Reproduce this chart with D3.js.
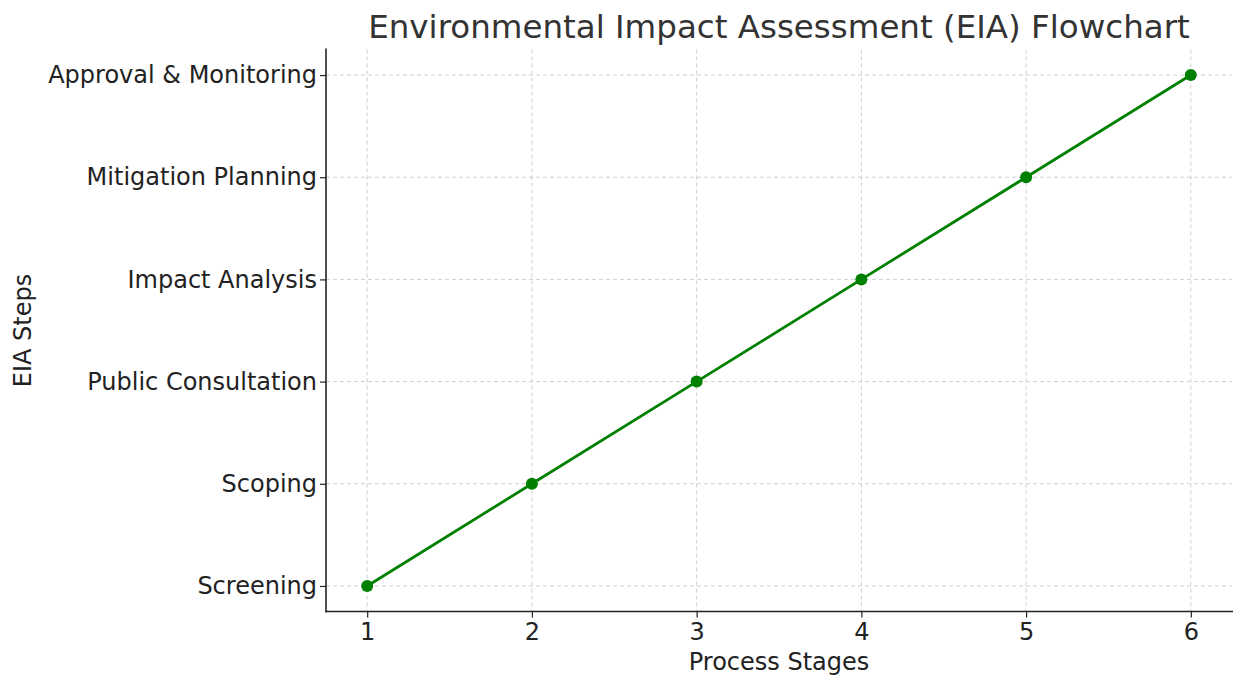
<!DOCTYPE html>
<html>
<head>
<meta charset="utf-8">
<script src="https://cdn.jsdelivr.net/npm/d3@7"></script>
<style>
  body { margin: 0; background: #fff; }
  svg { display: block; font-family: "DejaVu Sans", sans-serif; }
</style>
</head>
<body>
<div id="chart"></div>
<script>
const stages = [1, 2, 3, 4, 5, 6];
const steps = ["Screening", "Scoping", "Public Consultation", "Impact Analysis", "Mitigation Planning", "Approval & Monitoring"];
const xTicks = [1, 2, 3, 4, 5, 6];
const title = "Environmental Impact Assessment (EIA) Flowchart";
const xLabel = "Process Stages";
const yLabel = "EIA Steps";

const width = 1236, height = 679;
const marginLeft = 326, marginRight = 4, marginTop = 49.5, marginBottom = 67.5;

const data = stages.map((s, i) => ({ x: s, y: i }));

const x = d3.scaleLinear()
  .domain([0.75, 6.25])
  .range([marginLeft, width - marginRight]);

const y = d3.scaleLinear()
  .domain([-0.25, steps.length - 0.75])
  .range([height - marginBottom, marginTop]);

const svg = d3.select("#chart")
  .append("svg")
  .attr("width", width)
  .attr("height", height)
  .attr("viewBox", [0, 0, width, height]);

// grid
svg.append("g")
  .attr("stroke", "#cfcfcf")
  .attr("stroke-width", 1)
  .attr("stroke-dasharray", "4,3")
  .selectAll("line")
  .data(xTicks)
  .join("line")
  .attr("x1", d => x(d)).attr("x2", d => x(d))
  .attr("y1", marginTop).attr("y2", height - marginBottom);

svg.append("g")
  .attr("stroke", "#cfcfcf")
  .attr("stroke-width", 1)
  .attr("stroke-dasharray", "4,3")
  .selectAll("line")
  .data(d3.range(steps.length))
  .join("line")
  .attr("x1", marginLeft).attr("x2", width - marginRight)
  .attr("y1", d => y(d)).attr("y2", d => y(d));

// axes
const xAxis = svg.append("g")
  .attr("transform", `translate(0,${height - marginBottom})`)
  .call(d3.axisBottom(x).tickValues(xTicks).tickFormat(d3.format("d")).tickSizeOuter(0).tickSize(6).tickPadding(5));

const yAxis = svg.append("g")
  .attr("transform", `translate(${marginLeft},0)`)
  .call(d3.axisLeft(y).tickValues(d3.range(steps.length)).tickFormat(i => steps[i]).tickSizeOuter(0).tickSize(6).tickPadding(3));

[xAxis, yAxis].forEach(g => {
  g.select(".domain").remove();
  g.selectAll(".tick line").attr("stroke", "#222").attr("stroke-width", 1.2);
  g.selectAll(".tick text").attr("fill", "#222").attr("font-size", 24).attr("font-family", "DejaVu Sans");
});

// spines
svg.append("line")
  .attr("x1", marginLeft).attr("x2", marginLeft)
  .attr("y1", marginTop - 1).attr("y2", height - marginBottom + 0.8)
  .attr("stroke", "#222").attr("stroke-width", 1.6);
svg.append("line")
  .attr("x1", marginLeft - 0.8).attr("x2", width - marginRight + 1)
  .attr("y1", height - marginBottom).attr("y2", height - marginBottom)
  .attr("stroke", "#222").attr("stroke-width", 1.6);

// line
svg.append("path")
  .datum(data)
  .attr("fill", "none")
  .attr("stroke", "green")
  .attr("stroke-width", 2.8)
  .attr("d", d3.line().x(d => x(d.x)).y(d => y(d.y)));

svg.append("g")
  .attr("fill", "green")
  .selectAll("circle")
  .data(data)
  .join("circle")
  .attr("cx", d => x(d.x))
  .attr("cy", d => y(d.y))
  .attr("r", 6);

// labels
svg.append("text")
  .attr("x", (marginLeft + width - marginRight) / 2)
  .attr("y", 38)
  .attr("text-anchor", "middle")
  .attr("fill", "#333")
  .attr("font-size", 32.5)
  .text(title);

svg.append("text")
  .attr("x", (marginLeft + width - marginRight) / 2)
  .attr("y", 670)
  .attr("text-anchor", "middle")
  .attr("fill", "#222")
  .attr("font-size", 24)
  .text(xLabel);

svg.append("text")
  .attr("transform", `translate(31,${(marginTop + height - marginBottom) / 2}) rotate(-90)`)
  .attr("text-anchor", "middle")
  .attr("fill", "#222")
  .attr("font-size", 24)
  .text(yLabel);
</script>
</body>
</html>
